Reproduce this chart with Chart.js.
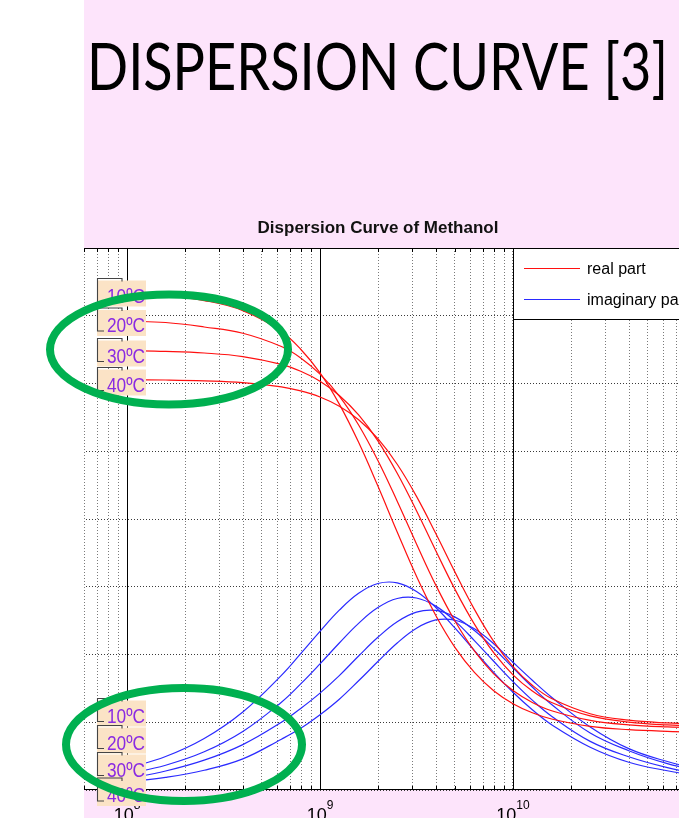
<!DOCTYPE html>
<html>
<head>
<meta charset="utf-8">
<script src="https://cdn.jsdelivr.net/npm/chart.js@4.4.1/dist/chart.umd.min.js"></script>
<style>
html,body{margin:0;padding:0;width:679px;height:818px;overflow:hidden;background:#fde4fb;}
#wrap{position:relative;width:679px;height:818px;overflow:hidden;background:#fde4fb;}
#chartBox{position:absolute;left:0;top:200px;width:756px;height:640px;z-index:1;}
#leftStrip{position:absolute;left:0;top:0;width:84px;height:818px;background:#ffffff;z-index:2;}
#ov{position:absolute;left:0;top:0;z-index:3;pointer-events:none;}
</style>
</head>
<body>
<div id="wrap">
  <div id="chartBox"><canvas id="c"></canvas></div>
  <div id="leftStrip"></div>
  <svg id="ov" width="679" height="818" viewBox="0 0 679 818" xmlns="http://www.w3.org/2000/svg">
    <text x="87" y="90" font-family="Lato, 'Open Sans', sans-serif" font-size="66" textLength="581" lengthAdjust="spacingAndGlyphs" fill="#000">DISPERSION CURVE [3]</text>
    <g id="labels"></g>
    <ellipse cx="169" cy="349.5" rx="119" ry="55" fill="none" stroke="#00b050" stroke-width="8"/>
    <ellipse cx="184" cy="744.5" rx="118" ry="56.5" fill="none" stroke="#00b050" stroke-width="8"/>
  </svg>
</div>
<script>
// ---- data (frequency in Hz) ----
const freq = [1e8, 1.585e8, 2.512e8, 3.981e8, 6.31e8, 7.943e8, 1e9, 1.259e9, 1.585e9, 1.995e9, 2.512e9, 3.162e9,
              3.981e9, 5.012e9, 6.31e9, 7.943e9, 1e10, 1.259e10, 1.585e10, 2.512e10, 3.981e10, 6.31e10, 1e11];
const temps = ['10ºC', '20ºC', '30ºC', '40ºC'];
// real part
const real10 = [36.63, 36.46, 36.12, 35.38, 33.82, 32.53, 30.78, 28.48, 25.66, 22.43, 19.04, 15.77, 12.88, 10.51, 8.68, 7.33, 6.37, 5.70, 5.24, 4.70, 4.45, 4.33, 4.27];
const real20 = [34.60, 34.50, 34.17, 33.71, 32.73, 31.89, 30.69, 29.07, 26.94, 24.32, 21.31, 18.16, 15.12, 12.45, 10.26, 8.57, 7.34, 6.46, 5.85, 5.14, 4.81, 4.66, 4.59];
const real30 = [32.43, 32.37, 32.25, 31.99, 31.41, 30.90, 30.17, 29.12, 27.68, 25.77, 23.38, 20.61, 17.66, 14.79, 12.24, 10.13, 8.50, 7.31, 6.46, 5.47, 5.01, 4.80, 4.70];
const real40 = [30.28, 30.26, 30.20, 30.07, 29.75, 29.45, 29.00, 28.32, 27.33, 25.93, 24.04, 21.67, 18.93, 16.06, 13.33, 10.97, 9.11, 7.73, 6.75, 5.63, 5.15, 4.95, 4.86];
// imaginary part
const imag10 = [1.60, 2.47, 3.80, 5.76, 8.46, 10.06, 11.71, 13.27, 14.52, 15.24, 15.29, 14.65, 13.47, 11.94, 10.29, 8.68, 7.21, 5.92, 4.82, 3.16, 2.05, 1.42, 0.95];
const imag20 = [1.18, 1.83, 2.82, 4.32, 6.48, 7.83, 9.31, 10.85, 12.30, 13.46, 14.13, 14.17, 13.57, 12.46, 11.03, 9.50, 8.00, 6.63, 5.44, 3.59, 2.45, 1.65, 1.10];
const imag30 = [0.84, 1.40, 2.20, 3.35, 5.00, 6.02, 7.15, 8.44, 9.89, 11.27, 12.42, 13.13, 13.25, 12.76, 11.77, 10.46, 9.02, 7.60, 6.31, 4.21, 2.90, 1.95, 1.30];
const imag40 = [0.59, 0.93, 1.46, 2.30, 3.75, 4.55, 5.55, 6.70, 8.06, 9.48, 10.85, 11.94, 12.55, 12.53, 11.90, 10.79, 9.43, 8.10, 6.85, 4.65, 3.05, 2.10, 1.40];
const legendLabels = ['real part', 'imaginary part'];
const yTicks = [0, 5, 10, 15, 20, 25, 30, 35, 40];

const realSets = [real10, real20, real30, real40];
const imagSets = [imag10, imag20, imag30, imag40];
const RED = '#ff1010', BLUE = '#2a2aff';

const datasets = [];
realSets.forEach((arr, k) => datasets.push({
  label: 'real part ' + temps[k], data: freq.map((f, i) => ({x: f, y: arr[i]})),
  borderColor: RED, borderWidth: 1.2, pointRadius: 0, tension: 0.4, fill: false
}));
imagSets.forEach((arr, k) => datasets.push({
  label: 'imaginary part ' + temps[k], data: freq.map((f, i) => ({x: f, y: arr[i]})),
  borderColor: BLUE, borderWidth: 1.2, pointRadius: 0, tension: 0.4, fill: false
}));

function isDecade(v) { const l = Math.log10(v); return Math.abs(l - Math.round(l)) < 1e-9; }

const decor = {
  id: 'decor',
  beforeDraw(chart) {
    const {ctx, chartArea: a} = chart;
    ctx.save(); ctx.fillStyle = '#fff';
    ctx.fillRect(a.left, a.top, a.right - a.left, a.bottom - a.top);
    ctx.restore();
  },
  beforeDatasetsDraw(chart) {
    const {ctx, chartArea: a} = chart; const xs = chart.scales.x;
    ctx.save(); ctx.setLineDash([]); ctx.strokeStyle = '#000'; ctx.lineWidth = 1;
    ctx.beginPath();
    for (const t of xs.ticks) {
      const px = Math.round(xs.getPixelForValue(t.value)) + 0.5;
      const len = isDecade(t.value) ? 7 : 4;
      if (isDecade(t.value)) { ctx.moveTo(px, a.top); ctx.lineTo(px, a.bottom); }
      ctx.moveTo(px, a.top); ctx.lineTo(px, a.top + len);
      ctx.moveTo(px, a.bottom); ctx.lineTo(px, a.bottom - len);
    }
    const top = Math.round(a.top) + 0.5, bot = Math.round(a.bottom) - 0.5;
    ctx.moveTo(a.left, top); ctx.lineTo(a.right, top);
    ctx.moveTo(a.left, bot); ctx.lineTo(a.right, bot);
    ctx.stroke(); ctx.restore();
  },
  afterDraw(chart) {
    const {ctx, chartArea: a} = chart; const xs = chart.scales.x;
    ctx.save();
    // legend box
    const lx = 513.5, ly = Math.round(a.top) + 0.5, lh = 71;
    ctx.fillStyle = '#fff'; ctx.fillRect(lx, ly, 260, lh);
    ctx.strokeStyle = '#000'; ctx.lineWidth = 1; ctx.strokeRect(lx, ly, 260, lh);
    const rows = [[legendLabels[0], RED, ly + 19], [legendLabels[1], BLUE, ly + 50]];
    ctx.font = '16px "Liberation Sans", Arial, sans-serif'; ctx.textBaseline = 'middle'; ctx.textAlign = 'left';
    for (const [txt, col, y] of rows) {
      ctx.strokeStyle = col; ctx.lineWidth = 1; ctx.beginPath();
      ctx.moveTo(524, Math.round(y) + 0.5); ctx.lineTo(580, Math.round(y) + 0.5); ctx.stroke();
      ctx.fillStyle = '#000'; ctx.fillText(txt, 587, y + 2);
    }
    // decade tick labels 10^n
    ctx.fillStyle = '#000'; ctx.textBaseline = 'alphabetic';
    for (const t of xs.ticks) {
      if (!isDecade(t.value)) continue;
      const e = String(Math.round(Math.log10(t.value)));
      ctx.font = '18px "Liberation Sans", Arial, sans-serif'; const w1 = ctx.measureText('10').width;
      ctx.font = '12px "Liberation Sans", Arial, sans-serif'; const w2 = ctx.measureText(e).width;
      const px = xs.getPixelForValue(t.value); const x0 = px - (w1 + w2) / 2;
      ctx.font = '18px "Liberation Sans", Arial, sans-serif'; ctx.fillText('10', x0, a.bottom + 31);
      ctx.font = '12px "Liberation Sans", Arial, sans-serif'; ctx.fillText(e, x0 + w1, a.bottom + 18.6);
    }
    ctx.restore();
  }
};

new Chart(document.getElementById('c'), {
  type: 'line',
  data: {datasets},
  plugins: [decor],
  options: {
    responsive: true, maintainAspectRatio: false, animation: false,
    layout: {padding: 0},
    plugins: {
      legend: {display: false}, tooltip: {enabled: false},
      title: {display: true, text: 'Dispersion Curve of Methanol', color: '#111',
              font: {family: '"Liberation Sans", Arial, sans-serif', size: 17, weight: 'bold'},
              padding: {top: 18, bottom: 9.6}}
    },
    scales: {
      x: {
        type: 'logarithmic', min: 3.99e7, max: 1.816e11,
        afterBuildTicks(scale) {
          const t = [];
          for (let e = 7; e <= 11; e++) for (let m = 1; m < 10; m++) {
            const v = m * Math.pow(10, e);
            if (v >= scale.min && v <= scale.max) t.push({value: v, major: m === 1});
          }
          scale.ticks = t;
        },
        afterFit(scale) { scale.height = 50; scale.paddingLeft = 0; scale.paddingRight = 0; },
        ticks: {display: false},
        grid: {color: '#7a7a7a', lineWidth: 1, drawTicks: false},
        border: {display: false, dash: [1, 2]}
      },
      y: {
        type: 'linear', min: 0, max: 40,
        afterBuildTicks(scale) { scale.ticks = yTicks.map(v => ({value: v})); },
        afterFit(scale) { scale.width = 50; },
        ticks: {display: false},
        grid: {color: '#3a3a3a', lineWidth: 1, drawTicks: false},
        border: {display: false, dash: [1, 2]}
      }
    }
  }
});

// annotation labels on the slide
const upperBase = [302.5, 332, 362.5, 391.5];
const lowerBase = [722.5, 749.5, 776.5, 802];
const g = document.getElementById('labels');
const NS = 'http://www.w3.org/2000/svg';
function addLabel(txt, base) {
  const T = base - 22;
  const r = document.createElementNS(NS, 'rect');
  r.setAttribute('x', 97); r.setAttribute('y', T); r.setAttribute('width', 49); r.setAttribute('height', 26);
  r.setAttribute('fill', '#fbe3c6'); g.appendChild(r);
  const p = document.createElementNS(NS, 'path');
  p.setAttribute('d', `M122 ${T + 1} L122 ${T - 2} L97.5 ${T - 2} L97.5 ${T + 21} L104 ${T + 21}`);
  p.setAttribute('fill', 'none'); p.setAttribute('stroke', '#444'); p.setAttribute('stroke-width', 1.1);
  g.appendChild(p);
  const t = document.createElementNS(NS, 'text');
  t.setAttribute('x', 107); t.setAttribute('y', base);
  t.setAttribute('font-family', '"Liberation Sans", Arial, sans-serif'); t.setAttribute('font-size', 20);
  t.setAttribute('textLength', 38); t.setAttribute('lengthAdjust', 'spacingAndGlyphs');
  t.setAttribute('fill', '#8a2be2'); t.textContent = txt; g.appendChild(t);
}
temps.forEach((s, i) => addLabel(s, upperBase[i]));
temps.forEach((s, i) => addLabel(s, lowerBase[i]));
</script>
</body>
</html>
